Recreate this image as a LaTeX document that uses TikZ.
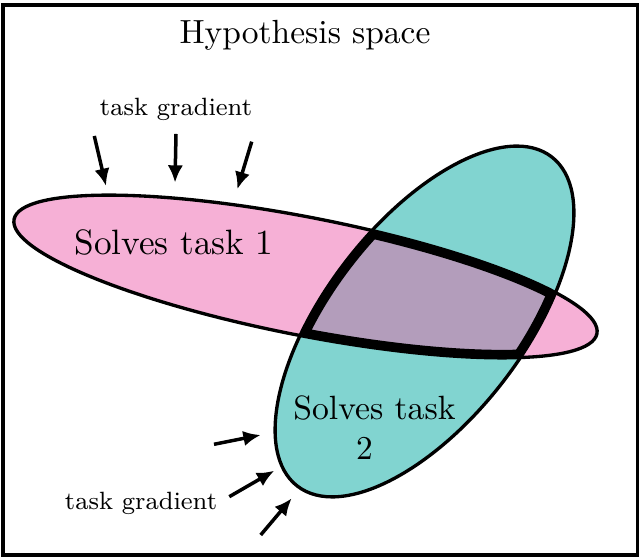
\documentclass[tikz,border=0pt]{standalone}
\usetikzlibrary{arrows.meta}
\definecolor{taskonefill}{RGB}{246,176,214}
\definecolor{tasktwofill}{RGB}{129,212,208}
\definecolor{bothfill}{RGB}{179,157,187}
\begin{document}
\begin{tikzpicture}[x=0.3pt,y=0.3pt,
    task one/.style={shift={(305.5,283.5)},rotate=-11.1,x radius=297,y radius=59},
    task two/.style={shift={(424.5,238.5)},rotate=52.3,x radius=208,y radius=99},
    grad/.style={line width=1.05pt,-{Latex[length=5.2pt,width=4.6pt]}}]
                \tikzstyle{every node}+=[inner sep=0pt]
                \useasboundingbox (0,0) rectangle (642,560);
                \draw [black, line width=1.05pt] (2.8,5) rectangle (637.7,555);
                \fill [task one, taskonefill] (0,0) ellipse;
                \fill [task two, tasktwofill] (0,0) ellipse;
                \begin{scope}
                \clip [task one] (0,0) ellipse;
                \fill [task two, bothfill] (0,0) ellipse;
                \end{scope}
                \draw [task one, black, line width=1pt] (0,0) ellipse;
                \draw [task two, black, line width=1pt] (0,0) ellipse;
                \begin{scope}
                \clip [task one] (0,0) ellipse;
                \clip [task two] (0,0) ellipse;
                \draw [task one, black, line width=4.8pt] (0,0) ellipse;
                \draw [task two, black, line width=4.8pt] (0,0) ellipse;
                \end{scope}
                \node [anchor=base] (title) at (305,516.5) {\fontsize{10.05}{12}\selectfont Hypothesis space};
                \node [anchor=base] (solvesone) at (174,305) {\fontsize{10.57}{12}\selectfont Solves task 1};
                \node [align=center] (solvestwo) at (374.5,132.5) {\fontsize{10.1}{10.3}\selectfont Solves task\\\hspace*{-6pt}2};
                \node [anchor=base] (gradtop) at (176,444) {\fontsize{7.5}{9}\selectfont task gradient};
                \node [anchor=base] (gradbottom) at (141,50) {\fontsize{7.5}{9}\selectfont task gradient};
                \coordinate (ta) at (94.3,424);
                \coordinate (tb) at (176,426);
                \coordinate (tc) at (251.7,418.3);
                \coordinate (ha) at (106,374);
                \coordinate (hb) at (175,377.3);
                \coordinate (hc) at (237.3,370.7);
                \coordinate (ba) at (214,115.7);
                \coordinate (bb) at (229.3,63.3);
                \coordinate (bc) at (260.7,25);
                \coordinate (ka) at (260.7,125);
                \coordinate (kb) at (274.3,89.3);
                \coordinate (kc) at (291.7,61.7);
                \draw [grad] (ta) -- (ha);
                \draw [grad] (tb) -- (hb);
                \draw [grad] (tc) -- (hc);
                \draw [grad] (ba) -- (ka);
                \draw [grad] (bb) -- (kb);
                \draw [grad] (bc) -- (kc);
\end{tikzpicture}
\end{document}
